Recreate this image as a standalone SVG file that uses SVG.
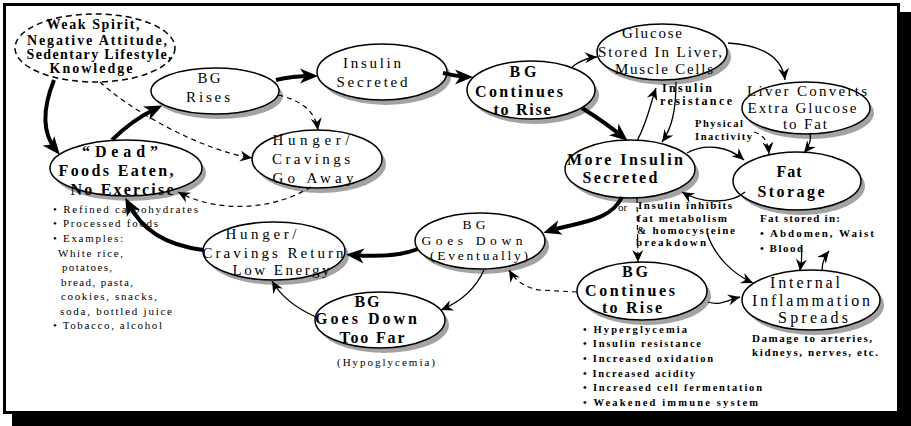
<svg xmlns="http://www.w3.org/2000/svg" width="911" height="426" viewBox="0 0 911 426">
<defs>
<style>
.nd{fill:#fff;stroke:#000;stroke-width:1.5}
.sh{fill:#a3a3a3}
text{font-family:"Liberation Serif","DejaVu Serif",serif;fill:#000}
.r{font-size:15px;text-anchor:middle}
.r14{font-size:13.5px;text-anchor:middle}
.r16{font-size:16px;text-anchor:middle}
.b{font-size:16px;font-weight:bold;text-anchor:middle}
.w{font-size:14px;font-weight:bold;text-anchor:middle}
.sr{font-size:11px}
.sb{font-size:11px;font-weight:bold}
.sb2{font-size:10.5px;font-weight:bold}
.lb{font-size:12px;font-weight:bold}
.thick{fill:none;stroke:#000;stroke-width:4;marker-end:url(#big)}
.thin{fill:none;stroke:#000;stroke-width:1.3;marker-end:url(#small)}
.dash{fill:none;stroke:#000;stroke-width:1.2;stroke-dasharray:5 4;marker-end:url(#small)}
</style>
<marker id="big" markerUnits="userSpaceOnUse" markerWidth="20" markerHeight="16" refX="0" refY="0" orient="auto" overflow="visible">
<path d="M6,0 L-12,-7.5 L-7,0 L-12,7.5 Z" fill="#000"/>
</marker>
<marker id="small" markerUnits="userSpaceOnUse" markerWidth="14" markerHeight="12" refX="0" refY="0" orient="auto" overflow="visible">
<path d="M0,0 L-12,-5.5 L-8,0 L-12,5.5 Z" fill="#000"/>
</marker>
</defs>

<!-- page frame with drop shadow -->
<rect x="12" y="12" width="899" height="414" fill="#000"/>
<rect x="4.5" y="4.5" width="894" height="408" fill="#fff" stroke="#000" stroke-width="3"/>

<g id="weak-spirit">
<ellipse cx="95" cy="48" rx="80" ry="34" fill="#fff" stroke="#000" stroke-width="1.5" stroke-dasharray="6 4"/>
<text class="w" x="93" y="29" textLength="93" lengthAdjust="spacing">Weak Spirit,</text>
<text class="w" x="97" y="45" textLength="140" lengthAdjust="spacing">Negative Attitude,</text>
<text class="w" x="99" y="59" textLength="145" lengthAdjust="spacing">Sedentary Lifestyle,</text>
<text class="w" x="91" y="73" textLength="83" lengthAdjust="spacing">Knowledge</text>
</g>

<g id="bg-rises">
<ellipse class="sh" cx="219" cy="96" rx="64" ry="23"/>
<ellipse class="nd" cx="215" cy="91" rx="64" ry="23"/>
<text class="r" x="209" y="83" textLength="23" lengthAdjust="spacing">BG</text>
<text class="r" x="208" y="102" textLength="44" lengthAdjust="spacing">Rises</text>
</g>

<g id="insulin-secreted">
<ellipse class="sh" cx="386" cy="77" rx="65" ry="28"/>
<ellipse class="nd" cx="382" cy="72" rx="65" ry="28"/>
<text class="r" x="372" y="68" textLength="58" lengthAdjust="spacing">Insulin</text>
<text class="r" x="372" y="87" textLength="71" lengthAdjust="spacing">Secreted</text>
</g>

<g id="bg-continues-top">
<ellipse class="sh" cx="535" cy="95" rx="64" ry="29"/>
<ellipse class="nd" cx="531" cy="90" rx="64" ry="29"/>
<text class="b" x="523" y="77" textLength="27" lengthAdjust="spacing">BG</text>
<text class="b" x="519" y="97" textLength="88" lengthAdjust="spacing">Continues</text>
<text class="b" x="522" y="115" textLength="57" lengthAdjust="spacing">to Rise</text>
</g>

<g id="glucose-stored">
<ellipse class="sh" cx="666" cy="57" rx="65" ry="28"/>
<ellipse class="nd" cx="662" cy="52" rx="65" ry="28"/>
<text class="r" x="652" y="38" textLength="60" lengthAdjust="spacing">Glucose</text>
<text class="r" x="660" y="57" textLength="124" lengthAdjust="spacing">Stored In Liver,</text>
<text class="r" x="664" y="74" textLength="98" lengthAdjust="spacing">Muscle Cells</text>
</g>

<g id="liver-converts">
<ellipse class="sh" cx="810" cy="113" rx="64" ry="26"/>
<ellipse class="nd" cx="806" cy="108" rx="64" ry="26"/>
<text class="r" x="807" y="96" textLength="120" lengthAdjust="spacing">Liver Converts</text>
<text class="r" x="802" y="113" textLength="109" lengthAdjust="spacing">Extra Glucose</text>
<text class="r" x="805" y="129" textLength="44" lengthAdjust="spacing">to Fat</text>
</g>

<g id="more-insulin">
<ellipse class="sh" cx="634" cy="174" rx="65" ry="29"/>
<ellipse class="nd" cx="630" cy="169" rx="65" ry="29"/>
<text class="b" x="625" y="165" textLength="116" lengthAdjust="spacing">More Insulin</text>
<text class="b" x="620" y="183" textLength="75" lengthAdjust="spacing">Secreted</text>
</g>

<g id="fat-storage">
<ellipse class="sh" cx="801" cy="186" rx="64" ry="29"/>
<ellipse class="nd" cx="797" cy="181" rx="64" ry="29"/>
<text class="b" x="789" y="177" textLength="25" lengthAdjust="spacing">Fat</text>
<text class="b" x="791" y="197" textLength="67" lengthAdjust="spacing">Storage</text>
<text class="sb" x="760" y="222" textLength="80" lengthAdjust="spacing">Fat stored in:</text>
<text class="sb" x="760" y="237" textLength="114" lengthAdjust="spacing">• Abdomen, Waist</text>
<text class="sb" x="760" y="252" textLength="43" lengthAdjust="spacing">• Blood</text>
</g>

<g id="dead-foods">
<ellipse class="sh" cx="130" cy="173" rx="76" ry="28"/>
<ellipse class="nd" cx="126" cy="168" rx="76" ry="28"/>
<text class="b" x="120" y="157" textLength="76" lengthAdjust="spacing">“Dead”</text>
<text class="b" x="116" y="176" textLength="115" lengthAdjust="spacing">Foods Eaten,</text>
<text class="b" x="122" y="195" textLength="103" lengthAdjust="spacing">No Exercise</text>
<text class="sr" x="53" y="213" textLength="145" lengthAdjust="spacing">• Refined carbohydrates</text>
<text class="sr" x="53" y="227" textLength="105" lengthAdjust="spacing">• Processed foods</text>
<text class="sr" x="53" y="242" textLength="70" lengthAdjust="spacing">• Examples:</text>
<text class="sr" x="58" y="257" textLength="65" lengthAdjust="spacing">White rice,</text>
<text class="sr" x="62" y="271" textLength="50" lengthAdjust="spacing">potatoes,</text>
<text class="sr" x="61" y="286" textLength="72" lengthAdjust="spacing">bread, pasta,</text>
<text class="sr" x="61" y="300" textLength="96" lengthAdjust="spacing">cookies, snacks,</text>
<text class="sr" x="60" y="315" textLength="112" lengthAdjust="spacing">soda, bottled juice</text>
<text class="sr" x="53" y="329" textLength="109" lengthAdjust="spacing">• Tobacco, alcohol</text>
</g>

<g id="cravings-go-away">
<ellipse class="sh" cx="321" cy="164" rx="65" ry="29"/>
<ellipse class="nd" cx="317" cy="159" rx="65" ry="29"/>
<text class="r" x="311" y="145" textLength="77" lengthAdjust="spacing">Hunger/</text>
<text class="r" x="311" y="164" textLength="78" lengthAdjust="spacing">Cravings</text>
<text class="r" x="313" y="183" textLength="81" lengthAdjust="spacing">Go Away</text>
</g>

<g id="bg-goes-down">
<ellipse class="sh" cx="484" cy="246" rx="65" ry="28"/>
<ellipse class="nd" cx="480" cy="241" rx="65" ry="28"/>
<text class="r14" x="474" y="229" textLength="23" lengthAdjust="spacing">BG</text>
<text class="r14" x="472" y="244.5" textLength="101" lengthAdjust="spacing">Goes Down</text>
<text class="r14" x="479" y="259.5" textLength="98" lengthAdjust="spacing">(Eventually)</text>
</g>

<g id="cravings-return">
<ellipse class="sh" cx="278" cy="256" rx="71" ry="29"/>
<ellipse class="nd" cx="274" cy="251" rx="71" ry="29"/>
<text class="r" x="261" y="239" textLength="71" lengthAdjust="spacing">Hunger/</text>
<text class="r" x="273" y="258" textLength="141" lengthAdjust="spacing">Cravings Return</text>
<text class="r" x="281" y="275" textLength="97" lengthAdjust="spacing">Low Energy</text>
</g>

<g id="bg-too-far">
<ellipse class="sh" cx="384" cy="325" rx="65" ry="28"/>
<ellipse class="nd" cx="380" cy="320" rx="65" ry="28"/>
<text class="b" x="367" y="307" textLength="25" lengthAdjust="spacing">BG</text>
<text class="b" x="366" y="324" textLength="102" lengthAdjust="spacing">Goes Down</text>
<text class="b" x="372" y="343" textLength="65" lengthAdjust="spacing">Too Far</text>
<text class="sr" x="386" y="366" text-anchor="middle" textLength="98" lengthAdjust="spacing">(Hypoglycemia)</text>
</g>

<g id="bg-continues-bottom">
<ellipse class="sh" cx="646" cy="296" rx="65" ry="29"/>
<ellipse class="nd" cx="642" cy="291" rx="65" ry="29"/>
<text class="b" x="635" y="277" textLength="26" lengthAdjust="spacing">BG</text>
<text class="b" x="630" y="296" textLength="90" lengthAdjust="spacing">Continues</text>
<text class="b" x="632" y="313" textLength="60" lengthAdjust="spacing">to Rise</text>
<text class="sb2" x="583" y="333" textLength="104" lengthAdjust="spacing">• Hyperglycemia</text>
<text class="sb2" x="583" y="347" textLength="118" lengthAdjust="spacing">• Insulin resistance</text>
<text class="sb2" x="583" y="362" textLength="130" lengthAdjust="spacing">• Increased oxidation</text>
<text class="sb2" x="583" y="377" textLength="112" lengthAdjust="spacing">• Increased acidity</text>
<text class="sb2" x="583" y="391" textLength="179" lengthAdjust="spacing">• Increased cell fermentation</text>
<text class="sb2" x="583" y="406" textLength="175" lengthAdjust="spacing">• Weakened immune system</text>
</g>

<g id="inflammation">
<ellipse class="sh" cx="815" cy="305" rx="69" ry="30"/>
<ellipse class="nd" cx="811" cy="300" rx="69" ry="30"/>
<text class="r16" x="805" y="288" textLength="70" lengthAdjust="spacing">Internal</text>
<text class="r16" x="811" y="306" textLength="118" lengthAdjust="spacing">Inflammation</text>
<text class="r16" x="813" y="323" textLength="70" lengthAdjust="spacing">Spreads</text>
<text class="sb" x="752" y="342" textLength="120" lengthAdjust="spacing">Damage to arteries,</text>
<text class="sb" x="752" y="356" textLength="126" lengthAdjust="spacing">kidneys, nerves, etc.</text>
</g>

<g id="connectors">
<!-- main cycle (thick) -->
<path class="thick" d="M54,80 C42,110 42,133 56,150"/>
<path class="thick" d="M112,140 Q132,120 157,108"/>
<path class="thick" d="M276,80 C288,77 300,76 312,76"/>
<path class="thick" d="M443,73 C452,75 460,77 467,77"/>
<path class="thick" d="M582,108 C598,118 612,128 623,137"/>
<path class="thick" d="M622,197 C610,222 578,222 549,231"/>
<path class="thick" d="M418,249 C400,256 378,257 352,255"/>
<path class="thick" d="M203,250 C165,245 142,230 128,203"/>
<!-- thin links -->
<path class="thin" d="M572,67 Q583,58 597,57"/>
<path class="thin" d="M728,43 C760,45 782,55 785,80"/>
<path class="thin" d="M637,141 C648,120 650,105 656,88"/>
<path class="thin" d="M676,82 C676,110 672,128 662,142"/>
<path class="thin" d="M687,153 C705,143 728,146 744,160"/>
<path class="thin" d="M745,192 C730,205 700,203 682,192"/>
<path class="thin" d="M810,133 C812,142 808,148 804,153"/>
<path class="thin" d="M707,233 C715,258 735,275 753,283"/>
<path class="thin" d="M708,302 C720,306 728,300 740,297"/>
<path class="thin" d="M801,247 C803,258 801,263 800,271"/>
<path class="thin" d="M822,271 C822,262 825,256 829,251"/>
<path class="thin" d="M484,270 C475,290 460,302 441,310"/>
<path class="thin" d="M316,317 C300,310 282,298 272,281"/>
<!-- dashed influences -->
<path class="dash" d="M100,82 C130,110 200,150 252,158"/>
<path class="dash" d="M278,95 C300,100 315,110 318,130"/>
<path class="dash" d="M311,187 C270,212 215,212 178,192"/>
<path class="dash" d="M577,292 L540,290 C525,288 515,280 509,270"/>
<path class="dash" d="M754,132 C764,135 768,142 769,154"/>
<path class="dash" d="M637,198 L638,262"/>
<!-- link labels -->
<text class="lb" x="662" y="92" textLength="50" lengthAdjust="spacing">Insulin</text>
<text class="lb" x="660" y="105" textLength="72" lengthAdjust="spacing">resistance</text>
<text class="sb2" x="695" y="127" textLength="48" lengthAdjust="spacing">Physical</text>
<text class="sb2" x="695" y="140" textLength="57" lengthAdjust="spacing">Inactivity</text>
<text class="sr" x="618" y="211">or</text>
<text class="sb" x="638" y="209" textLength="94" lengthAdjust="spacing">Insulin inhibits</text>
<text class="sb" x="637" y="222" textLength="90" lengthAdjust="spacing">fat metabolism</text>
<text class="sb" x="637" y="234" textLength="98" lengthAdjust="spacing">&amp; homocysteine</text>
<text class="sb" x="636" y="246" textLength="70" lengthAdjust="spacing">breakdown</text>
</g>
</svg>
